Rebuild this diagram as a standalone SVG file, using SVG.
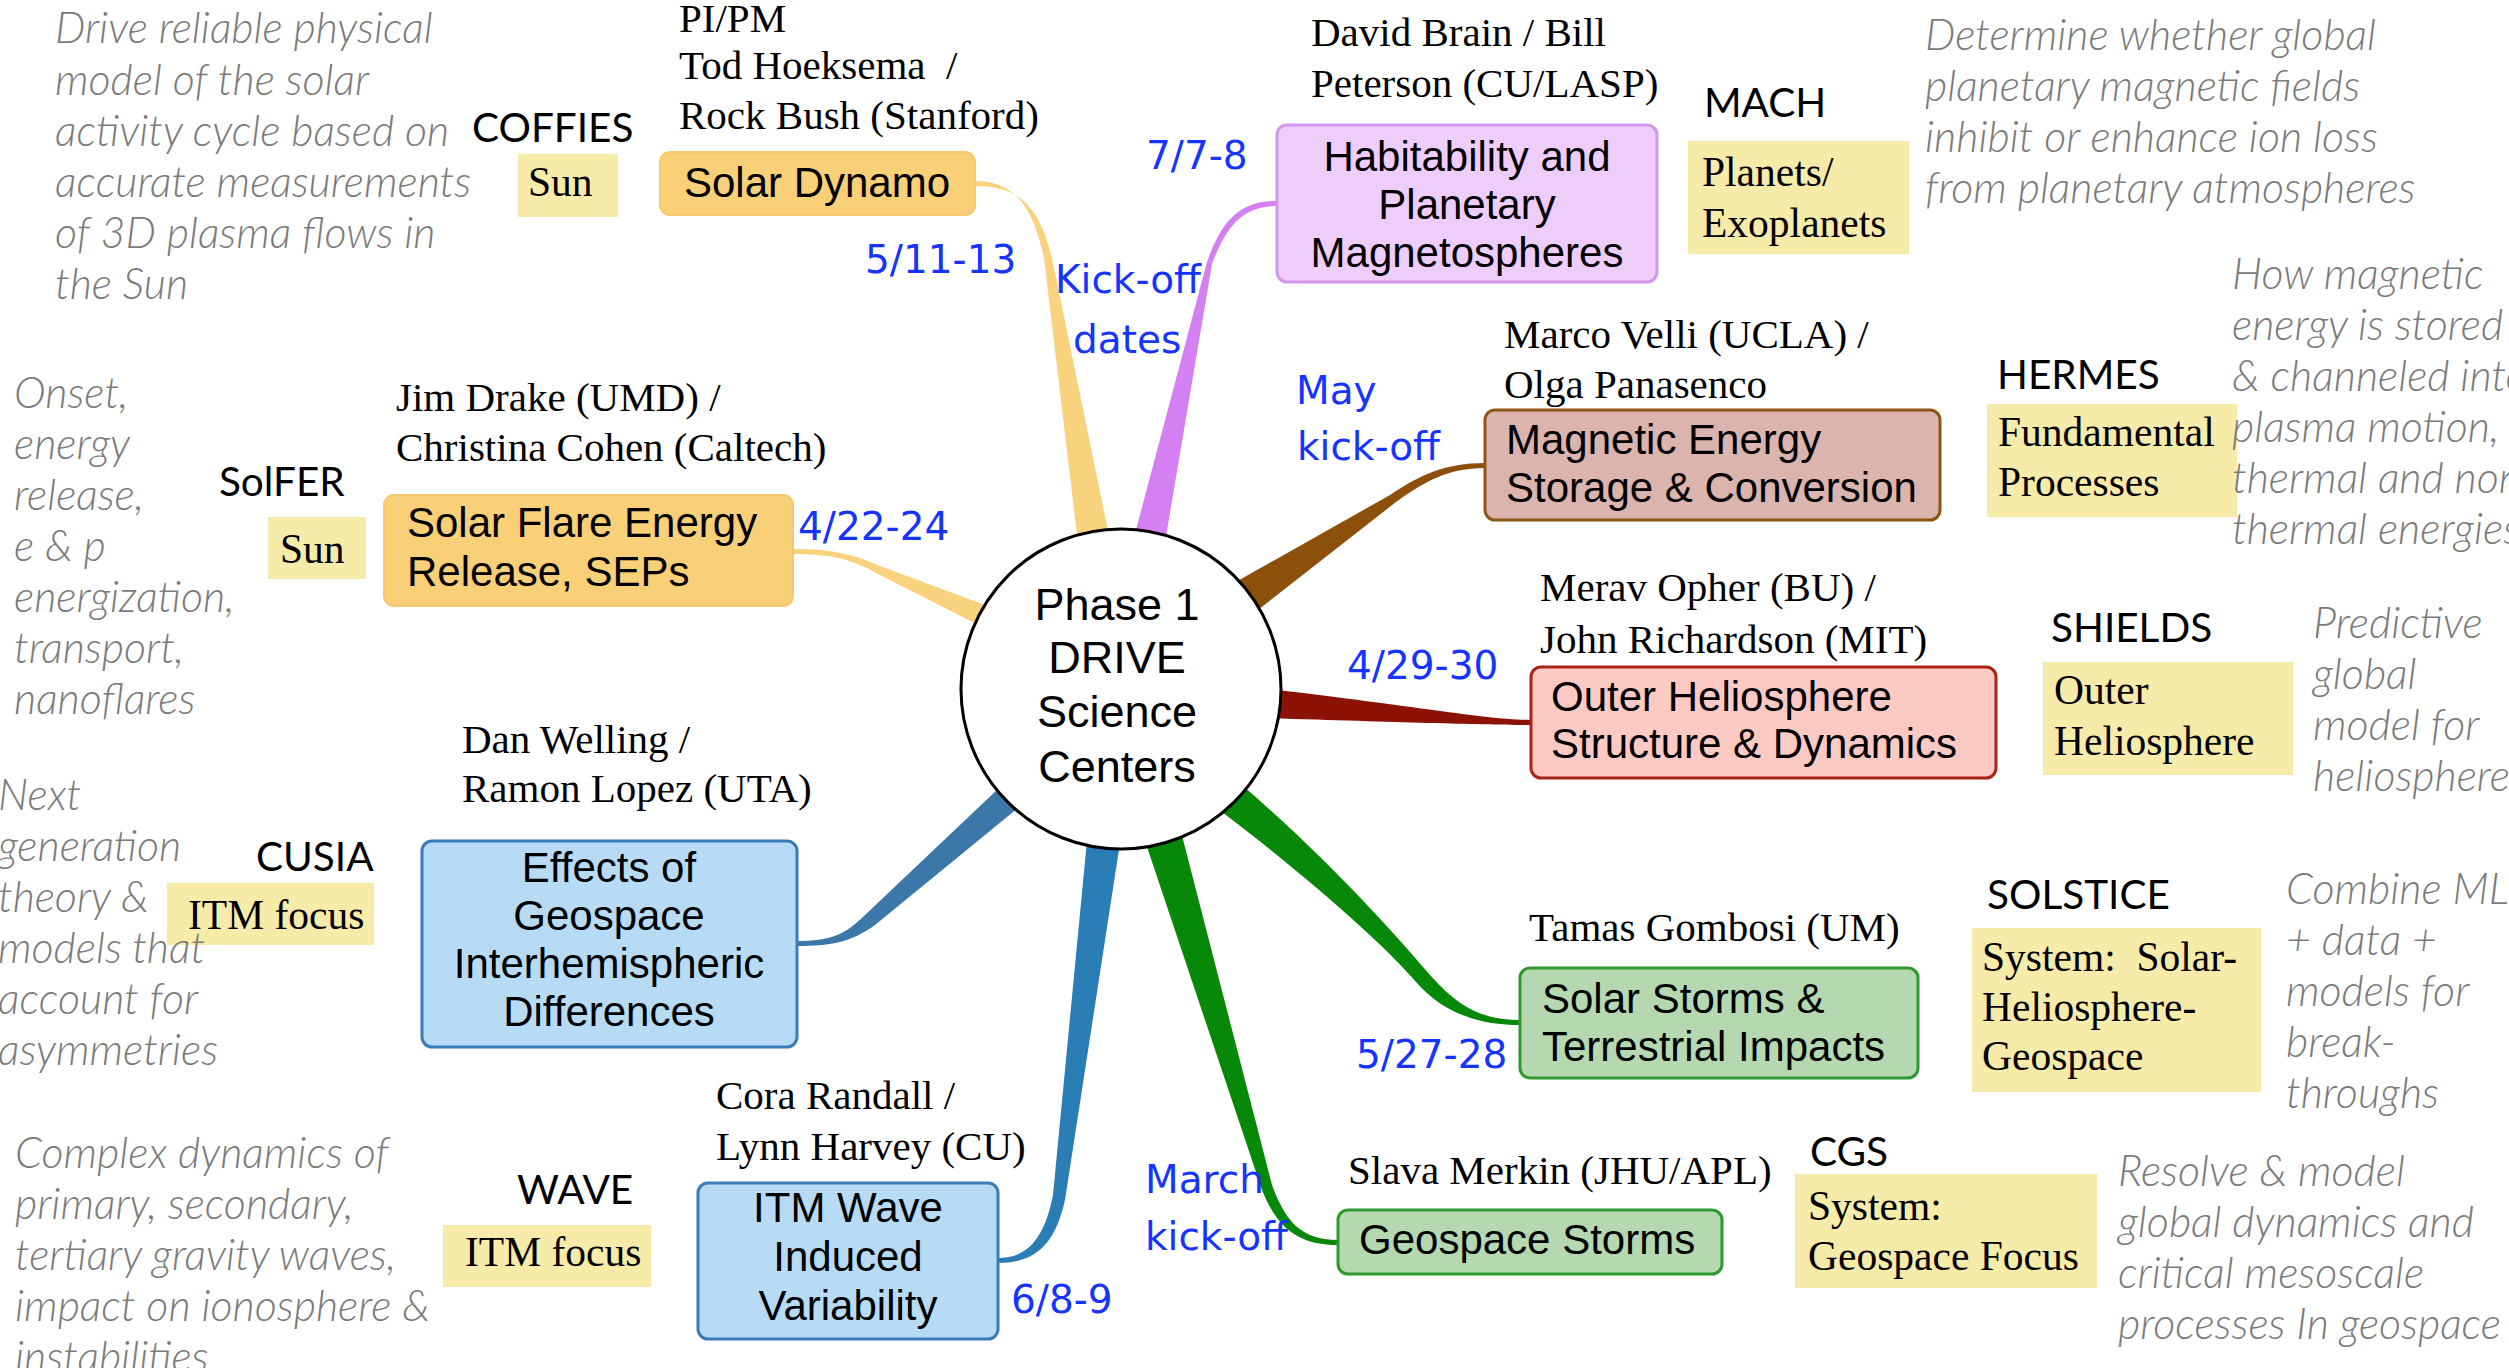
<svg xmlns="http://www.w3.org/2000/svg" width="2509" height="1368" viewBox="0 0 2509 1368">
<style>
.desc{font-family:"Lato","Open Sans",sans-serif;font-style:italic;font-weight:300;font-size:43px;fill:#7b7b7b}
.acr{font-family:"Lato","Open Sans",sans-serif;font-size:40.5px;fill:#000}
.name{font-family:"Liberation Serif","DejaVu Serif",serif;font-size:41px;fill:#000}
.ytxt{font-family:"Liberation Serif","DejaVu Serif",serif;font-size:41.5px;fill:#000}
.ybox{fill:#f7eba9}
.btxt{font-family:"Liberation Sans",Arial,sans-serif;font-size:42px;fill:#000}
.date{font-family:"DejaVu Sans",Verdana,sans-serif;font-size:39px;fill:#1534ff}
.ctr{font-family:"Liberation Sans",Arial,sans-serif;font-size:45px;fill:#000;text-anchor:middle}
.mid{text-anchor:middle}
.orange{fill:#f9cf78;stroke:#f6c86c;stroke-width:2}
.violet{fill:#efcdfb;stroke:#d596ee;stroke-width:3}
.brown{fill:#dbb4ad;stroke:#8f5516;stroke-width:3}
.red{fill:#fdcac3;stroke:#a82318;stroke-width:3}
.blue{fill:#b7dbf4;stroke:#3a7cb7;stroke-width:3}
.green{fill:#b6d8b0;stroke:#2e9a2e;stroke-width:3}
</style>

<g id="connectors">
  <path d="M975,181 C1018,181 1034,212 1044,258 L1080,560 L1114,560 L1052,258 C1040,210 1022,186 975,186 Z" fill="#f9d27e"/>
  <path d="M1277,201 C1240,201 1222,220 1207,262 L1128,560 L1162,560 L1212,264 C1228,222 1245,206 1277,206 Z" fill="#d580f2"/>
  <path d="M793,549 C830,549 850,553 880,566 L1012,615 L1000,636 L878,574 C850,558 830,554 793,554 Z" fill="#f9d27e"/>
  <path d="M1485,463 C1445,463 1420,475 1390,495 L1225,588 L1245,620 L1396,502 C1424,482 1448,468 1485,468 Z" fill="#8d500b"/>
  <path d="M1531,720 C1480,719 1420,706 1260,688 L1260,718 C1400,722 1480,725 1531,725 Z" fill="#8c1206"/>
  <path d="M1520,1020 C1478,1020 1455,1003 1430,975 C1400,940 1330,860 1236,780 L1206,800 C1300,870 1385,945 1416,982 C1444,1014 1480,1025 1520,1025 Z" fill="#088808"/>
  <path d="M1338,1240 C1300,1240 1285,1220 1272,1185 L1178,820 L1138,820 L1262,1190 C1278,1230 1300,1245 1338,1245 Z" fill="#088808"/>
  <path d="M998,1258 C1030,1258 1045,1235 1053,1195 L1088,830 L1122,830 L1065,1200 C1055,1245 1035,1263 998,1263 Z" fill="#2a7db5"/>
  <path d="M797,941 C830,941 845,935 865,915 L1020,768 L1040,790 L875,925 C850,943 830,946 797,946 Z" fill="#3b78a9"/>
</g>

<g id="center">
  <circle cx="1121" cy="689" r="160" fill="#fff" stroke="#000" stroke-width="3"/>
  <text class="ctr" x="1117" y="620">Phase 1</text>
  <text class="ctr" x="1117" y="673">DRIVE</text>
  <text class="ctr" x="1117" y="727">Science</text>
  <text class="ctr" x="1117" y="782">Centers</text>
</g>

<g id="coffies">
  <rect class="orange" x="660" y="152" width="315" height="63" rx="10"/>
  <text class="btxt mid" x="817" y="197">Solar Dynamo</text>
  <text class="name" x="679" y="32">PI/PM</text>
  <text class="name" x="679" y="79">Tod Hoeksema&#160; /</text>
  <text class="name" x="679" y="129">Rock Bush (Stanford)</text>
  <text class="acr" x="472" y="142">COFFIES</text>
  <rect class="ybox" x="518" y="154" width="100" height="63"/>
  <text class="ytxt" x="528" y="196">Sun</text>
  <text class="date" x="865" y="273">5/11-13</text>
</g>

<g id="mach">
  <rect class="violet" x="1277" y="125" width="380" height="157" rx="10"/>
  <text class="btxt mid" x="1467" y="171">Habitability and</text>
  <text class="btxt mid" x="1467" y="219">Planetary</text>
  <text class="btxt mid" x="1467" y="267">Magnetospheres</text>
  <text class="name" x="1311" y="46">David Brain / Bill</text>
  <text class="name" x="1311" y="97">Peterson (CU/LASP)</text>
  <text class="acr" x="1704" y="117">MACH</text>
  <rect class="ybox" x="1688" y="141" width="221" height="113"/>
  <text class="ytxt" x="1702" y="186">Planets/</text>
  <text class="ytxt" x="1702" y="237">Exoplanets</text>
  <text class="date" x="1146" y="169">7/7-8</text>
</g>

<g id="solfer">
  <rect class="orange" x="384" y="495" width="409" height="111" rx="10"/>
  <text class="btxt" x="407" y="537">Solar Flare Energy</text>
  <text class="btxt" x="407" y="586">Release, SEPs</text>
  <text class="name" x="396" y="411">Jim Drake (UMD) /</text>
  <text class="name" x="396" y="461">Christina Cohen (Caltech)</text>
  <text class="acr" x="219" y="496">SolFER</text>
  <rect class="ybox" x="268" y="517" width="98" height="62"/>
  <text class="ytxt" x="280" y="563">Sun</text>
  <text class="date" x="798" y="540">4/22-24</text>
</g>

<g id="hermes">
  <rect class="brown" x="1485" y="410" width="455" height="110" rx="10"/>
  <text class="btxt" x="1506" y="454">Magnetic Energy</text>
  <text class="btxt" x="1506" y="502">Storage &amp; Conversion</text>
  <text class="name" x="1504" y="348">Marco Velli (UCLA) /</text>
  <text class="name" x="1504" y="398">Olga Panasenco</text>
  <text class="acr" x="1997" y="389">HERMES</text>
  <rect class="ybox" x="1987" y="404" width="250" height="113"/>
  <text class="ytxt" x="1998" y="446">Fundamental</text>
  <text class="ytxt" x="1998" y="496">Processes</text>
  <text class="date" x="1296" y="404">May</text>
  <text class="date" x="1297" y="460">kick-off</text>
</g>

<g id="shields">
  <rect class="red" x="1531" y="667" width="465" height="111" rx="10"/>
  <text class="btxt" x="1551" y="711">Outer Heliosphere</text>
  <text class="btxt" x="1551" y="758">Structure &amp; Dynamics</text>
  <text class="name" x="1540" y="601">Merav Opher (BU) /</text>
  <text class="name" x="1540" y="653">John Richardson (MIT)</text>
  <text class="acr" x="2051" y="642">SHIELDS</text>
  <rect class="ybox" x="2043" y="662" width="250" height="113"/>
  <text class="ytxt" x="2054" y="704">Outer</text>
  <text class="ytxt" x="2054" y="755">Heliosphere</text>
  <text class="date" x="1347" y="679">4/29-30</text>
</g>

<g id="cusia">
  <rect class="blue" x="422" y="841" width="375" height="206" rx="10"/>
  <text class="btxt mid" x="609" y="882">Effects of</text>
  <text class="btxt mid" x="609" y="930">Geospace</text>
  <text class="btxt mid" x="609" y="978">Interhemispheric</text>
  <text class="btxt mid" x="609" y="1026">Differences</text>
  <text class="name" x="462" y="753">Dan Welling /</text>
  <text class="name" x="462" y="802">Ramon Lopez (UTA)</text>
  <text class="acr" x="256" y="871">CUSIA</text>
  <rect class="ybox" x="167" y="883" width="207" height="62"/>
  <text class="ytxt" x="188" y="929">ITM focus</text>
</g>

<g id="solstice">
  <rect class="green" x="1520" y="968" width="398" height="110" rx="10"/>
  <text class="btxt" x="1542" y="1013">Solar Storms &amp;</text>
  <text class="btxt" x="1542" y="1061">Terrestrial Impacts</text>
  <text class="name" x="1529" y="941">Tamas Gombosi (UM)</text>
  <text class="acr" x="1987" y="909">SOLSTICE</text>
  <rect class="ybox" x="1972" y="928" width="289" height="164"/>
  <text class="ytxt" x="1982" y="971">System:&#160; Solar-</text>
  <text class="ytxt" x="1982" y="1021">Heliosphere-</text>
  <text class="ytxt" x="1982" y="1070">Geospace</text>
  <text class="date" x="1356" y="1068">5/27-28</text>
</g>

<g id="wave">
  <rect class="blue" x="698" y="1183" width="300" height="156" rx="10"/>
  <text class="btxt mid" x="848" y="1222">ITM Wave</text>
  <text class="btxt mid" x="848" y="1271">Induced</text>
  <text class="btxt mid" x="848" y="1320">Variability</text>
  <text class="name" x="716" y="1109">Cora Randall /</text>
  <text class="name" x="716" y="1160">Lynn Harvey (CU)</text>
  <text class="acr" x="517" y="1204">WAVE</text>
  <rect class="ybox" x="443" y="1225" width="208" height="62"/>
  <text class="ytxt" x="465" y="1266">ITM focus</text>
  <text class="date" x="1011" y="1313">6/8-9</text>
</g>

<g id="cgs">
  <rect class="green" x="1338" y="1210" width="384" height="64" rx="10"/>
  <text class="btxt" x="1359" y="1254">Geospace Storms</text>
  <text class="name" x="1348" y="1184">Slava Merkin (JHU/APL)</text>
  <text class="acr" x="1810" y="1166">CGS</text>
  <rect class="ybox" x="1795" y="1174" width="302" height="114"/>
  <text class="ytxt" x="1808" y="1220">System:</text>
  <text class="ytxt" x="1808" y="1270">Geospace Focus</text>
  <text class="date" x="1145" y="1193">March</text>
  <text class="date" x="1145" y="1250">kick-off</text>
</g>

<g id="kickoff-label">
  <text class="date" x="1055" y="293">Kick-off</text>
  <text class="date" x="1073" y="353">dates</text>
</g>

<g id="descriptions">
  <text class="desc" x="55" y="43">Drive reliable physical</text>
  <text class="desc" x="55" y="95">model of the solar</text>
  <text class="desc" x="55" y="146">activity cycle based on</text>
  <text class="desc" x="55" y="197">accurate measurements</text>
  <text class="desc" x="55" y="248">of 3D plasma flows in</text>
  <text class="desc" x="55" y="299">the Sun</text>

  <text class="desc" x="14" y="408">Onset,</text>
  <text class="desc" x="14" y="459">energy</text>
  <text class="desc" x="14" y="510">release,</text>
  <text class="desc" x="14" y="561">e &amp; p</text>
  <text class="desc" x="14" y="612">energization,</text>
  <text class="desc" x="14" y="663">transport,</text>
  <text class="desc" x="14" y="714">nanoflares</text>

  <text class="desc" x="-2" y="810">Next</text>
  <text class="desc" x="-2" y="861">generation</text>
  <text class="desc" x="-2" y="912">theory &amp;</text>
  <text class="desc" x="-2" y="963">models that</text>
  <text class="desc" x="-2" y="1014">account for</text>
  <text class="desc" x="-2" y="1065">asymmetries</text>

  <text class="desc" x="15" y="1168">Complex dynamics of</text>
  <text class="desc" x="15" y="1219">primary, secondary,</text>
  <text class="desc" x="15" y="1270">tertiary gravity waves,</text>
  <text class="desc" x="15" y="1321">impact on ionosphere &amp;</text>
  <text class="desc" x="15" y="1372">instabilities</text>

  <text class="desc" x="1925" y="50">Determine whether global</text>
  <text class="desc" x="1925" y="101">planetary magnetic fields</text>
  <text class="desc" x="1925" y="152">inhibit or enhance ion loss</text>
  <text class="desc" x="1925" y="203">from planetary atmospheres</text>

  <text class="desc" x="2232" y="289">How magnetic</text>
  <text class="desc" x="2232" y="340">energy is stored</text>
  <text class="desc" x="2232" y="391">&amp; channeled into</text>
  <text class="desc" x="2232" y="442">plasma motion,</text>
  <text class="desc" x="2232" y="493">thermal and non-</text>
  <text class="desc" x="2232" y="544">thermal energies</text>

  <text class="desc" x="2313" y="638">Predictive</text>
  <text class="desc" x="2313" y="689">global</text>
  <text class="desc" x="2313" y="740">model for</text>
  <text class="desc" x="2313" y="791">heliosphere</text>

  <text class="desc" x="2286" y="904">Combine ML</text>
  <text class="desc" x="2286" y="955">+ data +</text>
  <text class="desc" x="2286" y="1006">models for</text>
  <text class="desc" x="2286" y="1057">break-</text>
  <text class="desc" x="2286" y="1108">throughs</text>

  <text class="desc" x="2118" y="1186">Resolve &amp; model</text>
  <text class="desc" x="2118" y="1237">global dynamics and</text>
  <text class="desc" x="2118" y="1288">critical mesoscale</text>
  <text class="desc" x="2118" y="1339">processes In geospace</text>
</g>
</svg>
